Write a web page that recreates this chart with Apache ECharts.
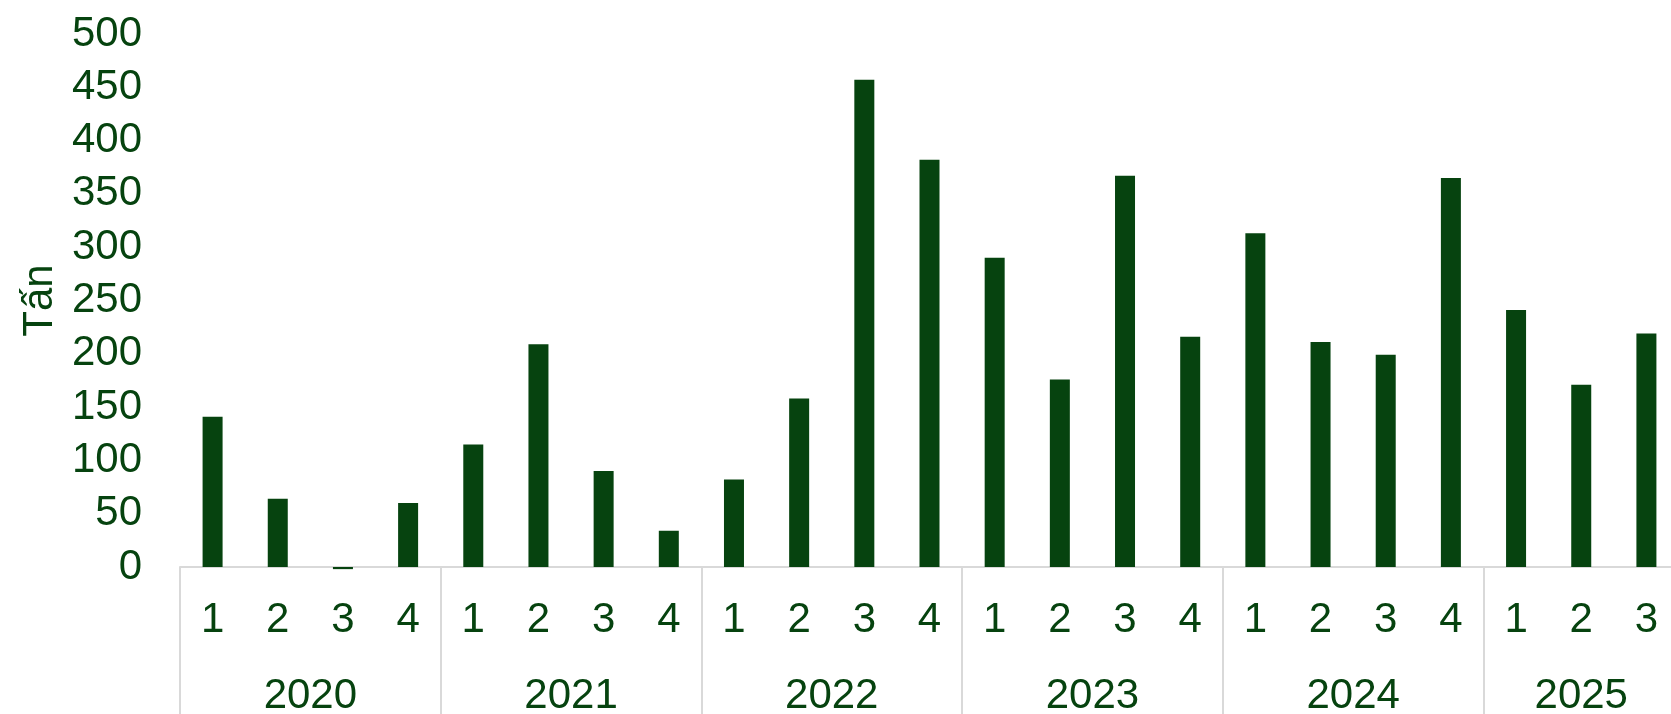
<!DOCTYPE html>
<html>
<head>
<meta charset="utf-8">
<style>
  html, body { margin: 0; padding: 0; background: #ffffff; }
  #chart { width: 1671px; height: 714px; }
</style>
<script src="https://cdn.jsdelivr.net/npm/echarts@6/dist/echarts.min.js"></script>
</head>
<body>
<div id="chart"></div>
<script>
// Quarterly volume (tonnes), 2020 Q1 – 2025 Q3
const years = ['2020', '2021', '2022', '2023', '2024', '2025'];
const quartersPerYear = [4, 4, 4, 4, 4, 3];
const quarterLabels = [
  '1', '2', '3', '4',
  '1', '2', '3', '4',
  '1', '2', '3', '4',
  '1', '2', '3', '4',
  '1', '2', '3', '4',
  '1', '2', '3'
];
const volumes = [
  141, 64, -2, 60,
  115, 209, 90, 34,
  82, 158, 457, 382,
  290, 176, 367, 216,
  313, 211, 199, 365,
  241, 171, 219
];
const yTicks = { min: 0, max: 500, step: 50 };

const GREEN = '#06430f';
const GRID_LINE = '#d9d9d9';
const FONT = 'Liberation Sans, Arial, sans-serif';
const FONT_SIZE = 42;

// Indices of the first quarter of each year (group separators)
const groupStarts = [];
let acc = 0;
quartersPerYear.forEach(n => { groupStarts.push(acc); acc += n; });

// Year labels sit on a half-quarter grid so each one lands at its group centre
const halfSlots = new Array(quarterLabels.length * 2 + 1).fill('');
years.forEach((y, i) => { halfSlots[groupStarts[i] * 2 + quartersPerYear[i]] = y; });

const chart = echarts.init(document.getElementById('chart'), null, { renderer: 'canvas' });
chart.setOption({
  animation: false,
  backgroundColor: '#ffffff',
  grid: { left: 180, top: 34, bottom: 147, width: 1499, outerBoundsMode: 'none', containLabel: false },
  xAxis: [
    {
      type: 'category',
      data: quarterLabels,
      boundaryGap: true,
      axisLine: { show: true, lineStyle: { color: GRID_LINE, width: 2 } },
      axisTick: {
        show: true,
        interval: (index) => groupStarts.indexOf(index) !== -1,
        length: 170,
        lineStyle: { color: GRID_LINE, width: 2 }
      },
      axisLabel: {
        interval: 0,
        color: GREEN,
        fontFamily: FONT,
        fontSize: FONT_SIZE,
        lineHeight: 42,
        margin: 32
      },
      splitLine: { show: false }
    },
    {
      type: 'category',
      data: halfSlots,
      boundaryGap: false,
      position: 'bottom',
      offset: 0,
      axisLine: { show: false },
      axisTick: { show: false },
      axisLabel: {
        interval: 0,
        color: GREEN,
        fontFamily: FONT,
        fontSize: FONT_SIZE,
        lineHeight: 42,
        margin: 108
      },
      splitLine: { show: false }
    }
  ],
  yAxis: {
    type: 'value',
    min: yTicks.min,
    max: yTicks.max,
    interval: yTicks.step,
    name: 'Tấn',
    nameLocation: 'middle',
    nameRotate: 90,
    nameGap: 118,
    nameTextStyle: { color: GREEN, fontFamily: FONT, fontSize: FONT_SIZE },
    axisLine: { show: false },
    axisTick: { show: false },
    splitLine: { show: false },
    axisLabel: {
      color: GREEN,
      fontFamily: FONT,
      fontSize: FONT_SIZE,
      margin: 38,
      padding: [6, 0, 0, 0]
    }
  },
  series: [
    {
      type: 'bar',
      xAxisIndex: 0,
      data: volumes,
      barWidth: 20,
      clip: false,
      itemStyle: { color: GREEN }
    }
  ]
});
</script>
</body>
</html>
